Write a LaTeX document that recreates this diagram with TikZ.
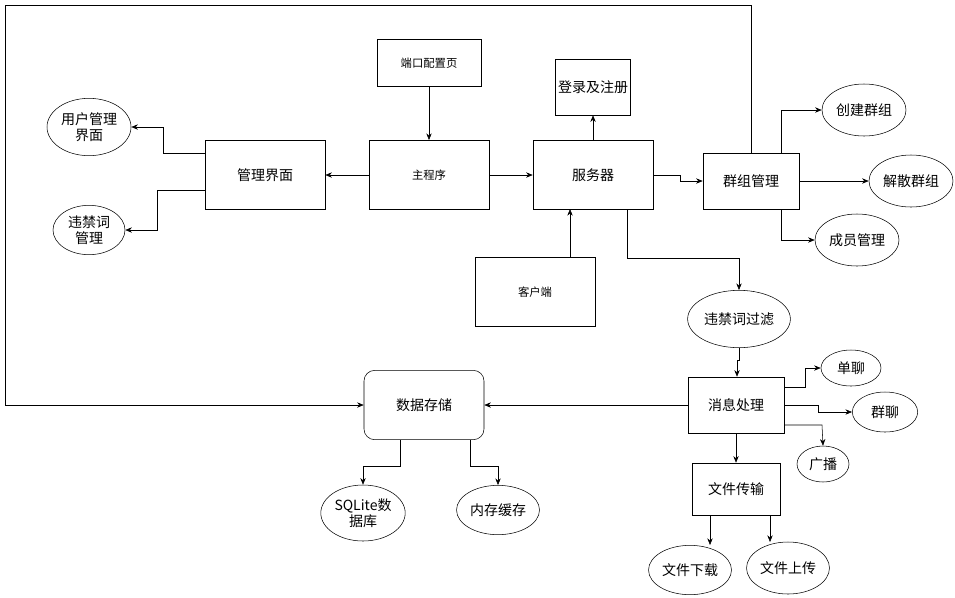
\documentclass[tikz,border=0pt]{standalone}
\usepackage{fontspec}
\setmainfont{Liberation Sans}
\newfontfamily\cjk{Noto Sans CJK SC}
\usetikzlibrary{shapes.geometric, arrows.meta, positioning}

\begin{document}
\begin{tikzpicture}[x=0.75pt, y=-0.75pt, every node/.style={font=\cjk\fontsize{10.5}{12}\selectfont, align=center, inner sep=1pt},
	box/.style={rectangle, draw=black, text centered},
	oval/.style={ellipse, draw=black, text centered},
	small/.style={font=\cjk\fontsize{8.5}{10}\selectfont},
	arr/.style={->, >={Stealth[length=5pt,width=4pt]}}]
			\useasboundingbox (0,0) rectangle (955,597);
			\node (port) [box, small, minimum width=78pt, minimum height=35pt] at (429,63) {端口配置页};
			\node (login) [box, minimum width=56pt, minimum height=42pt] at (593,87) {登录及注册};
			\node (main) [box, small, minimum width=90pt, minimum height=52pt] at (429,175) {主程序};
			\node (admin) [box, minimum width=90pt, minimum height=52pt] at (265,175) {管理界面};
			\node (server) [box, minimum width=90pt, minimum height=52pt] at (593,175) {服务器};
			\node (client) [box, small, minimum width=90pt, minimum height=52pt] at (535,292) {客户端};
			\node (group) [box, minimum width=72pt, minimum height=42pt] at (751,181) {群组管理};
			\node (user) [oval, minimum width=63pt, minimum height=43pt] at (89,127) {用户管理\\界面};
			\node (ban) [oval, minimum width=54pt, minimum height=37pt] at (89,230) {违禁词\\管理};
			\node (create) [oval, minimum width=63pt, minimum height=39pt] at (864,110) {创建群组};
			\node (dissolve) [oval, minimum width=63pt, minimum height=39pt] at (911,181) {解散群组};
			\node (member) [oval, minimum width=63pt, minimum height=39pt] at (857,240) {成员管理};
			\node (filter) [oval, minimum width=64pt, minimum height=43pt] at (739,319) {违禁词过滤};
			\node (msg) [box, minimum width=72pt, minimum height=42pt] at (736,405) {消息处理};
			\node (store) [box, rounded corners=8pt, minimum width=90pt, minimum height=52pt] at (424,405) {数据存储};
			\node (single) [oval, minimum width=45pt, minimum height=27pt] at (851,368) {单聊};
			\node (gchat) [oval, minimum width=49pt, minimum height=30pt] at (885,412) {群聊};
			\node (bcast) [oval, minimum width=39pt, minimum height=27pt] at (823,464) {广播};
			\node (file) [box, minimum width=66pt, minimum height=39pt] at (736,489) {文件传输};
			\node (down) [oval, minimum width=57pt, minimum height=37pt] at (690,570) {文件下载};
			\node (up) [oval, minimum width=60pt, minimum height=39pt] at (788,568) {文件上传};
			\node (sqlite) [oval, minimum width=63pt, minimum height=42pt] at (363,513) {SQLite数\\据库};
			\node (cache) [oval, minimum width=60pt, minimum height=37pt] at (498,510) {内存缓存};

			% Arrows
			\draw [arr] (port) -- (main);
			\draw [arr] (main) -- (admin);
			\draw [arr] (main) -- (server);
			\draw [arr] (server) -- (login);
			\draw [arr] (client.north -| 570,0) -- (570,209);
			\draw [arr] (server.east) -- (680,175) |- (group.west);
			\draw [arr] (group.north -| 781,0) |- (create.west);
			\draw [arr] (group) -- (dissolve);
			\draw [arr] (group.south -| 781,0) |- (member.west);
			\draw [arr] (admin.west |- 0,153) -- (163,153) |- (user.east);
			\draw [arr] (admin.west |- 0,190) -- (157,190) |- (ban.east);
			\draw [arr] (server.south -| 627,0) -- (627,258) -| (filter.north);
			\draw [arr] (filter.south) -- (739,360) -- (737,360) -- (msg.north -| 737,0);
			\draw [arr] (msg) -- (store);
			\draw [arr] (msg.east |- 0,387) -- (805,387) |- (single.west);
			\draw [arr] (msg.east) -- (818,405) |- (gchat.west);
			\draw [arr] (msg.east |- 0,425) -- (822,425) -- (bcast.north);
			\draw [arr] (msg) -- (file);
			\draw [arr] (file.south -| 710,0) -- (710,545);
			\draw [arr] (file.south -| 770,0) -- (770,542);
			\draw [arr] (store.south -| 400,0) -- (400,466) -| (sqlite.north);
			\draw [arr] (store.south -| 470,0) -- (470,466) -| (cache.north);
			\draw [arr] (group.north) -- (751,5) -- (5,5) |- (store.west);
		\end{tikzpicture}
\end{document}
